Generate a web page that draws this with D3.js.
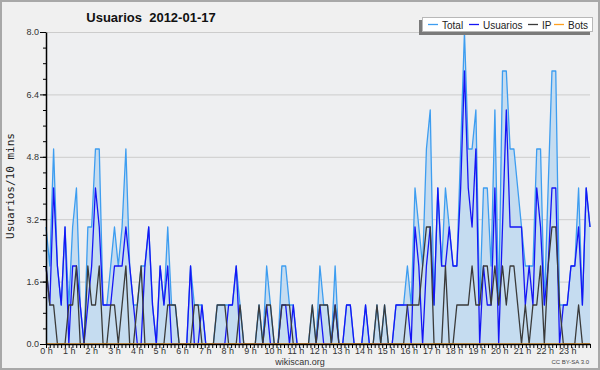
<!DOCTYPE html>
<html>
<head>
<meta charset="utf-8">
<script src="https://cdn.jsdelivr.net/npm/d3@7"></script>
<style>
    body { margin: 0; background: #f0f0f0; }
    svg { display: block; }
</style>
</head>
<body>
<script>
// usuarios por intervalo de 10 minutos (144 intervalos)
var total = [
    3, 2, 5, 2, 1, 3, 1, 3, 4, 1,
    0, 3, 3, 5, 5, 1, 1, 2, 3, 2,
    3, 5, 2, 1, 1, 2, 2, 3, 1, 0,
    2, 1, 3, 1, 1, 0, 0, 0, 2, 1,
    1, 1, 0, 0, 0, 1, 1, 1, 1, 1,
    2, 1, 0, 0, 0, 0, 1, 0, 2, 1,
    0, 0, 2, 2, 1, 1, 0, 0, 0, 0,
    1, 0, 2, 1, 1, 0, 2, 0, 0, 1,
    1, 0, 0, 0, 1, 0, 0, 1, 0, 1,
    0, 0, 1, 1, 1, 2, 1, 4, 3, 2,
    5, 6, 1, 4, 2, 4, 3, 2, 2, 5,
    8, 5, 5, 6, 1, 4, 4, 2, 6, 1,
    7, 7, 5, 5, 4, 3, 2, 2, 2, 5,
    5, 1, 4, 7, 7, 1, 1, 1, 2, 2,
    4, 1, 4, 3
];
var usuarios = [
    2, 1, 4, 2, 1, 3, 0, 2, 2, 1,
    0, 1, 2, 4, 3, 1, 1, 1, 2, 2,
    2, 3, 2, 1, 0, 0, 2, 3, 1, 0,
    2, 1, 2, 0, 0, 0, 0, 0, 2, 0,
    0, 1, 0, 0, 0, 0, 0, 0, 1, 1,
    2, 0, 0, 0, 0, 0, 0, 0, 1, 0,
    0, 0, 1, 1, 0, 1, 0, 0, 0, 0,
    0, 0, 1, 0, 0, 0, 1, 0, 0, 1,
    1, 0, 0, 0, 1, 0, 0, 0, 0, 0,
    0, 0, 1, 1, 1, 1, 0, 3, 2, 0,
    2, 3, 1, 4, 2, 2, 3, 2, 2, 4,
    7, 4, 3, 5, 0, 2, 1, 1, 4, 0,
    3, 6, 3, 3, 3, 3, 1, 2, 1, 4,
    3, 1, 2, 4, 4, 0, 1, 1, 2, 2,
    3, 1, 4, 3
];
var ip = [
    2, 1, 1, 0, 0, 0, 1, 1, 2, 0,
    0, 2, 1, 1, 2, 0, 0, 1, 1, 0,
    1, 2, 0, 0, 1, 2, 0, 0, 0, 0,
    0, 0, 1, 1, 1, 0, 0, 0, 0, 1,
    1, 0, 0, 0, 0, 1, 1, 1, 0, 0,
    0, 1, 0, 0, 0, 0, 1, 0, 1, 1,
    0, 0, 1, 1, 1, 0, 0, 0, 0, 0,
    1, 0, 1, 1, 1, 0, 1, 0, 0, 0,
    0, 0, 0, 0, 0, 0, 0, 1, 0, 1,
    0, 0, 0, 0, 0, 1, 1, 1, 1, 2,
    3, 3, 0, 0, 0, 2, 0, 0, 1, 1,
    1, 1, 2, 1, 1, 2, 2, 1, 2, 1,
    2, 1, 2, 2, 1, 0, 1, 0, 1, 1,
    2, 0, 2, 3, 3, 1, 0, 0, 0, 0,
    1, 0, 0, 0
];
var bots = [
    0, 0, 0, 0, 0, 0, 0, 0, 0, 0,
    0, 0, 0, 0, 0, 0, 0, 0, 0, 0,
    0, 0, 0, 0, 0, 0, 0, 0, 0, 0,
    0, 0, 0, 0, 0, 0, 0, 0, 0, 0,
    0, 0, 0, 0, 0, 0, 0, 0, 0, 0,
    0, 0, 0, 0, 0, 0, 0, 0, 0, 0,
    0, 0, 0, 0, 0, 0, 0, 0, 0, 0,
    0, 0, 0, 0, 0, 0, 0, 0, 0, 0,
    0, 0, 0, 0, 0, 0, 0, 0, 0, 0,
    0, 0, 0, 0, 0, 0, 0, 0, 0, 0,
    0, 0, 0, 0, 0, 0, 0, 0, 0, 0,
    0, 0, 0, 0, 0, 0, 0, 0, 0, 0,
    0, 0, 0, 0, 0, 0, 0, 0, 0, 0,
    0, 0, 0, 0, 0, 0, 0, 0, 0, 0,
    0, 0, 0, 0
];
var hours = [0, 1, 2, 3, 4, 5, 6, 7, 8, 9, 10, 11, 12, 13, 14, 15, 16, 17, 18, 19, 20, 21, 22, 23];
var yTicks = [0, 1.6, 3.2, 4.8, 6.4, 8.0];
var seriesNames = ['Total', 'Usuarios', 'IP', 'Bots'];
var seriesColors = ['#3d9df0', '#1515f5', '#3a3a3a', '#ffa020'];

var svgW = 600, svgH = 370;
var plot = {left: 46, right: 590, top: 32, bottom: 344};
var font = '"Liberation Sans", Arial, sans-serif';

var x = d3.scaleLinear().domain([0, total.length - 1]).range([plot.left, plot.right]);
var xHour = d3.scaleLinear().domain([0, 24]).range([plot.left, plot.right]);
var y = d3.scaleLinear().domain([0, 8]).range([plot.bottom, plot.top]);

//draw the layout
var svg = d3.select('body')
    .append('svg')
    .attr('width', svgW)
    .attr('height', svgH)
    .style('font-family', font);

svg.append('rect')
    .attr('x', 1).attr('y', 1)
    .attr('width', svgW - 2).attr('height', svgH - 2)
    .style('fill', '#f0f0f0')
    .style('stroke', '#a8a8a8')
    .style('stroke-width', 2);

svg.append('rect')
    .attr('x', plot.left).attr('y', plot.top)
    .attr('width', plot.right - plot.left).attr('height', plot.bottom - plot.top)
    .style('fill', '#eeeff1');

//grid lines
svg.append('g')
    .selectAll('line')
    .data(yTicks.slice(1))
    .enter().append('line')
    .attr('x1', plot.left).attr('x2', plot.right)
    .attr('y1', function (d) { return y(d) + 0.5; })
    .attr('y2', function (d) { return y(d) + 0.5; })
    .style('stroke', '#cccccc')
    .style('stroke-width', 1);

//series
var idx = d3.range(total.length);
var area = d3.area()
    .x(function (i) { return x(i); })
    .y0(y(0))
    .y1(function (i) { return y(total[i]); });
var line = function (values) {
    return d3.line()
        .x(function (i) { return x(i); })
        .y(function (i) { return y(values[i]); })(idx);
};

svg.append('path')
    .attr('d', area(idx))
    .style('fill', '#c5dcf0');

[total, usuarios, ip, bots].forEach(function (values, k) {
    svg.append('path')
        .attr('d', line(values))
        .style('fill', 'none')
        .style('stroke', seriesColors[k])
        .style('stroke-width', 1.3)
        .style('stroke-linejoin', 'round');
});

//x axis: a tick every 10 minutes, label every hour
var minorX = svg.append('g')
    .attr('transform', 'translate(0,' + plot.bottom + ')')
    .call(d3.axisBottom(xHour)
        .tickValues(d3.range(0, 24 * 6 + 1).map(function (m) { return m / 6; }))
        .tickSize(4).tickSizeOuter(0)
        .tickFormat(''));
minorX.select('.domain').style('stroke', '#000').style('stroke-width', 1.5);

svg.append('g')
    .attr('transform', 'translate(0,' + plot.bottom + ')')
    .call(d3.axisBottom(xHour)
        .tickValues(hours)
        .tickSize(0).tickPadding(4)
        .tickFormat(function (h) { return h + ' h'; }))
    .call(function (g) { g.select('.domain').remove(); })
    .selectAll('text')
    .style('font-family', font)
    .style('font-size', '9px')
    .style('fill', '#333');

//y axis
var minorY = svg.append('g')
    .attr('transform', 'translate(' + plot.left + ',0)')
    .call(d3.axisLeft(y)
        .tickValues(d3.range(0, 21).map(function (k) { return k * 0.4; }))
        .tickSize(3).tickSizeOuter(0)
        .tickFormat(''));
minorY.select('.domain').style('stroke', '#000').style('stroke-width', 1.5);

svg.append('g')
    .attr('transform', 'translate(' + plot.left + ',0)')
    .call(d3.axisLeft(y)
        .tickValues(yTicks)
        .tickSize(6).tickPadding(1)
        .tickFormat(d3.format('.1f')))
    .call(function (g) { g.select('.domain').remove(); })
    .selectAll('text')
    .style('font-family', font)
    .style('font-size', '9px')
    .style('fill', '#333');

//title
svg.append('text')
    .attr('x', 151).attr('y', 22)
    .attr('text-anchor', 'middle')
    .style('white-space', 'pre')
    .style('font-size', '13px')
    .style('font-weight', 'bold')
    .style('fill', '#111')
    .text('Usuarios  2012-01-17');

svg.append('text')
    .attr('transform', 'translate(14,186) rotate(-90)')
    .attr('text-anchor', 'middle')
    .style('font-family', '"DejaVu Sans Mono", monospace')
    .style('font-size', '11px')
    .style('fill', '#222')
    .text('Usuarios/10 mins');

svg.append('text')
    .attr('x', 300).attr('y', 365)
    .attr('text-anchor', 'middle')
    .style('font-size', '9px')
    .style('fill', '#333')
    .text('wikiscan.org');

svg.append('text')
    .attr('x', 589).attr('y', 364)
    .attr('text-anchor', 'end')
    .style('font-size', '6px')
    .style('fill', '#444')
    .text('CC BY-SA 3.0');

//legend
var legend = svg.append('g');
legend.append('rect')
    .attr('x', 419).attr('y', 20)
    .attr('width', 171).attr('height', 15)
    .style('fill', '#7a7a7a');
legend.append('rect')
    .attr('x', 422.5).attr('y', 17.5)
    .attr('width', 170).attr('height', 14)
    .style('fill', '#fff')
    .style('stroke', '#b8b8b8');

var legendX = [428, 469, 528, 554];
seriesNames.forEach(function (name, k) {
    legend.append('line')
        .attr('x1', legendX[k]).attr('x2', legendX[k] + 10)
        .attr('y1', 24.5).attr('y2', 24.5)
        .style('stroke', seriesColors[k])
        .style('stroke-width', 1.3);
    legend.append('text')
        .attr('x', legendX[k] + 14).attr('y', 28.5)
        .style('font-size', '10px')
        .style('fill', '#222')
        .text(name);
});
</script>
</body>
</html>
